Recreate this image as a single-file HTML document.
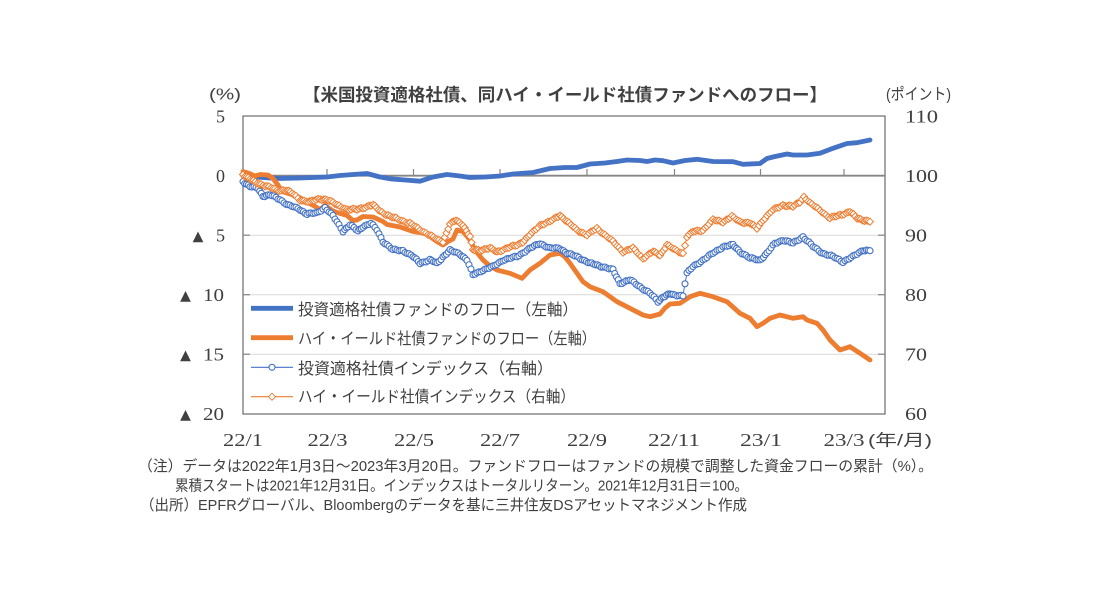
<!DOCTYPE html>
<html lang="ja">
<head>
<meta charset="utf-8">
<style>
  html,body{margin:0;padding:0;background:#fff;}
  body{width:1110px;height:599px;overflow:hidden;}
  svg{display:block;}
  .jp{font-family:"Liberation Sans","Noto Sans CJK JP",sans-serif;fill:#404040;}
  .num{font-family:"Liberation Serif",serif;fill:#404040;font-size:18px;}
  .tri{font-family:"DejaVu Sans",sans-serif;fill:#404040;font-size:14px;}
</style>
</head>
<body>
<svg id="chart" width="1110" height="599" viewBox="0 0 1110 599" xmlns="http://www.w3.org/2000/svg">
  <rect x="0" y="0" width="1110" height="599" fill="#fff"/>

  <!-- title -->
  <text class="jp" x="303" y="101" font-size="17.5" font-weight="700" fill="#3a3a3a" textLength="524" lengthAdjust="spacingAndGlyphs">【米国投資適格社債、同ハイ・イールド社債ファンドへのフロー】</text>
  <text class="jp" x="209" y="99.5" font-size="16" textLength="32" lengthAdjust="spacingAndGlyphs">(%)</text>
  <text class="jp" x="886" y="99.5" font-size="16" textLength="65" lengthAdjust="spacingAndGlyphs">(ポイント)</text>

  <!-- gridlines -->
  <g stroke="#d9d9d9" stroke-width="1">
    <line x1="243" y1="235.2" x2="885" y2="235.2"/>
    <line x1="243" y1="294.7" x2="885" y2="294.7"/>
    <line x1="243" y1="354.2" x2="885" y2="354.2"/>
  </g>
  <!-- plot box -->
  <rect x="243" y="116" width="642" height="298" fill="none" stroke="#6b6b6b" stroke-width="1.2"/>
  <!-- zero line -->
  <line x1="243" y1="175.7" x2="885" y2="175.7" stroke="#868686" stroke-width="1.8"/>
  <!-- x ticks -->
  <g stroke="#868686" stroke-width="1.2">
    <line x1="327" y1="169" x2="327" y2="175.7"/>
    <line x1="413.5" y1="169" x2="413.5" y2="175.7"/>
    <line x1="500" y1="169" x2="500" y2="175.7"/>
    <line x1="587" y1="169" x2="587" y2="175.7"/>
    <line x1="674.5" y1="169" x2="674.5" y2="175.7"/>
    <line x1="760.5" y1="169" x2="760.5" y2="175.7"/>
    <line x1="844" y1="169" x2="844" y2="175.7"/>
  </g>
  <!-- y ticks (inside) -->
  <g stroke="#868686" stroke-width="1.2">
    <line x1="243" y1="235.2" x2="250" y2="235.2"/>
    <line x1="243" y1="294.7" x2="250" y2="294.7"/>
    <line x1="243" y1="354.2" x2="250" y2="354.2"/>
    <line x1="878" y1="235.2" x2="885" y2="235.2"/>
    <line x1="878" y1="294.7" x2="885" y2="294.7"/>
    <line x1="878" y1="354.2" x2="885" y2="354.2"/>
  </g>

  <!-- left axis labels -->
  <text class="num" x="225" y="122.5" text-anchor="end">5</text>
  <text class="num" x="225" y="182.2" text-anchor="end">0</text>
  <text class="num" x="225" y="241.7" text-anchor="end">5</text>
  <text class="num" x="224" y="301.2" text-anchor="end" textLength="21" lengthAdjust="spacingAndGlyphs">10</text>
  <text class="num" x="224" y="360.7" text-anchor="end" textLength="21" lengthAdjust="spacingAndGlyphs">15</text>
  <text class="num" x="224" y="420.2" text-anchor="end" textLength="21" lengthAdjust="spacingAndGlyphs">20</text>
  <text class="tri" x="198" y="240.5" text-anchor="middle">▲</text>
  <text class="tri" x="185.5" y="300" text-anchor="middle">▲</text>
  <text class="tri" x="185.5" y="359.5" text-anchor="middle">▲</text>
  <text class="tri" x="185.5" y="419" text-anchor="middle">▲</text>

  <!-- right axis labels -->
  <text class="num" x="905" y="122.5" textLength="33" lengthAdjust="spacingAndGlyphs">110</text>
  <text class="num" x="905" y="182.2" textLength="33" lengthAdjust="spacingAndGlyphs">100</text>
  <text class="num" x="905" y="241.7" textLength="22" lengthAdjust="spacingAndGlyphs">90</text>
  <text class="num" x="905" y="301.2" textLength="22" lengthAdjust="spacingAndGlyphs">80</text>
  <text class="num" x="905" y="360.7" textLength="22" lengthAdjust="spacingAndGlyphs">70</text>
  <text class="num" x="905" y="420.2" textLength="22" lengthAdjust="spacingAndGlyphs">60</text>

  <!-- x axis labels -->
  <text class="num" x="243" y="446" text-anchor="middle" textLength="40" lengthAdjust="spacingAndGlyphs">22/1</text>
  <text class="num" x="327.5" y="446" text-anchor="middle" textLength="40" lengthAdjust="spacingAndGlyphs">22/3</text>
  <text class="num" x="414" y="446" text-anchor="middle" textLength="40" lengthAdjust="spacingAndGlyphs">22/5</text>
  <text class="num" x="500" y="446" text-anchor="middle" textLength="40" lengthAdjust="spacingAndGlyphs">22/7</text>
  <text class="num" x="587" y="446" text-anchor="middle" textLength="40" lengthAdjust="spacingAndGlyphs">22/9</text>
  <text class="num" x="674" y="446" text-anchor="middle" textLength="52" lengthAdjust="spacingAndGlyphs">22/11</text>
  <text class="num" x="761" y="446" text-anchor="middle" textLength="42" lengthAdjust="spacingAndGlyphs">23/1</text>
  <text class="num" x="844" y="446" text-anchor="middle" textLength="41" lengthAdjust="spacingAndGlyphs">23/3</text>
  <text class="jp" x="868" y="445.5" font-size="16" textLength="64" lengthAdjust="spacingAndGlyphs">(年/月)</text>

  <!-- series: flows (primary) -->
  <polyline id="bf" fill="none" stroke="#4472C4" stroke-width="4.8" stroke-linejoin="round" stroke-linecap="round"
    points="243,176 255,177 270,178 280,178.5 300,178 327,177 340,175.5 353,174.5 367,173.5 380,177 390,178.8 405,180 420,181.2 433,177 447,174.5 460,176 470,177.5 485,177 500,176 513,174 533,172.5 550,168.5 565,167.5 577,167.5 590,164 605,163 617,161.5 627,160 640,160.5 647,161.5 655,160 663,160.7 673,163 685,160.5 697,159.3 713,161.5 733,161.7 743,164.3 760,163.5 767,158.5 775,156.5 787,154 793,155 807,155 820,153.3 833,148.3 847,143.5 857,142.7 870,140"/>
  <polyline id="of" fill="none" stroke="#ED7D31" stroke-width="4.8" stroke-linejoin="round" stroke-linecap="round"
    points="243,171.5 248,173 255,176 260,174.5 268,175 273,178.5 278,185 282,191.5 290,194 298,196.5 308,202.5 316,207 320,209.5 325,205.5 333,211 340,213.5 347,215.5 353,220.5 357,220 363,216.5 373,217 383,221.5 387,224.5 400,227 413,231.5 427,233.5 432,238 437,241.5 443,245 448,241.5 453,239 457,230 463,231.5 470,240 475,250 483,260 490,266 497,270 510,273.3 522,278.3 530,270 540,263.3 550,255 560,253.3 565,257 570,263.3 583,281.7 590,286.7 603,291.7 617,301.7 630,308.3 643,315 650,316.7 660,314 665,308 670,304 680,303.3 690,296.7 700,293.3 713,296.7 727,301.7 740,313.3 750,318.3 757,326.7 763,323.3 770,318.3 780,315 793,318.3 803,316.7 807,320 817,323.3 823,330 830,340 840,350 850,346.7 860,353.3 870,360"/>

  <!-- series: indices (secondary) -->
  <polyline id="bi" fill="none" stroke="#4472C4" stroke-width="1"
    points="243,181.5 250,186.5 258,188.5 263,196 270,195 280,199.5 288,205 300,209.5 307,214 317,213 325,207.5 333,216 343,231 350,225 358,231 363,226.5 371,223.5 377,230 383,241.5 393,250 403,250.5 413,256.7 420,263 430,260 437,263.3 443,256.7 450,250.5 460,254 467,260 473,275 483,270 493,266.7 503,260 517,256.7 527,250 540,243.3 550,248.3 560,248.3 567,253.3 577,256.7 590,263.3 603,266.7 613,270 620,283.3 630,280 640,286.7 650,293.3 658,301.7 663,296.7 670,294 673,295 683,295.5 685,283.3 687,273.3 693,266.7 703,260 713,253.3 723,246.7 733,245 740,251.7 750,258.3 760,260 767,253.3 775,243.3 783,240 793,243.3 803,236.7 813,246.7 823,253.3 833,256.7 843,261.7 853,256.7 863,250 870,250.7"/>
  <g id="bim"></g>
  <polyline id="oi" fill="none" stroke="#ED7D31" stroke-width="1"
    points="243,174.5 250,179 257,183.3 267,186 277,190.5 287,190 292,193.3 300,200 310,201.7 320,199 327,199.5 337,205 347,209.5 357,209.5 367,206.5 373,205 380,211 390,216.5 400,220 410,223.3 420,230 430,235 437,240 443,241.7 450,224 456,220.5 463,225 470,236.7 473,250 480,250 490,248.3 497,251.7 507,248.3 517,245 523,241.7 530,235 540,225 550,221.7 560,215 567,221.7 577,230 587,235 597,228.3 603,233.3 613,241.7 623,251.7 633,248.3 643,258.3 653,251.7 660,255 667,245 675,250 683,253.3 687,236.7 693,231.7 703,230 713,220 723,221.7 732,216.7 740,221.7 750,223.3 757,228.3 763,220 773,210 783,205 793,206.7 800,201.7 804,196.7 810,203.3 820,210 830,218.3 840,215 850,211.7 857,218.3 870,221.7"/>
  <g id="oim"></g>

  <!-- legend -->
  <line x1="251" y1="308.3" x2="293" y2="308.3" stroke="#4472C4" stroke-width="4.8"/>
  <text class="jp" x="298" y="315" font-size="16" textLength="280" lengthAdjust="spacingAndGlyphs">投資適格社債ファンドのフロー（左軸）</text>
  <line x1="251" y1="337.7" x2="293" y2="337.7" stroke="#ED7D31" stroke-width="4.8"/>
  <text class="jp" x="298" y="344" font-size="16" textLength="298" lengthAdjust="spacingAndGlyphs">ハイ・イールド社債ファンドのフロー（左軸）</text>
  <line x1="251" y1="367.3" x2="293" y2="367.3" stroke="#4472C4" stroke-width="1.2"/>
  <circle cx="272" cy="367.3" r="3" fill="#fff" stroke="#4472C4" stroke-width="1.1"/>
  <text class="jp" x="298" y="374" font-size="16" textLength="255" lengthAdjust="spacingAndGlyphs">投資適格社債インデックス（右軸）</text>
  <line x1="251" y1="396.7" x2="293" y2="396.7" stroke="#ED7D31" stroke-width="1.2"/>
  <polygon points="272,393.2 275.5,396.7 272,400.2 268.5,396.7" fill="#fff" stroke="#ED7D31" stroke-width="1"/>
  <text class="jp" x="298" y="402" font-size="16" textLength="277" lengthAdjust="spacingAndGlyphs">ハイ・イールド社債インデックス（右軸）</text>

  <!-- notes -->
  <text class="jp" x="138" y="471" font-size="15" textLength="795" lengthAdjust="spacingAndGlyphs">（注）データは2022年1月3日～2023年3月20日。ファンドフローはファンドの規模で調整した資金フローの累計（%）。</text>
  <text class="jp" x="175" y="490.5" font-size="15" textLength="573" lengthAdjust="spacingAndGlyphs">累積スタートは2021年12月31日。インデックスはトータルリターン。2021年12月31日＝100。</text>
  <text class="jp" x="140" y="510" font-size="15" textLength="607" lengthAdjust="spacingAndGlyphs">（出所）EPFRグローバル、Bloombergのデータを基に三井住友DSアセットマネジメント作成</text>
</svg>
<script>
(function(){
  var NS="http://www.w3.org/2000/svg";
  function pts(id){
    return document.getElementById(id).getAttribute("points").trim().split(/\s+/).map(function(p){var a=p.split(",");return [parseFloat(a[0]),parseFloat(a[1])];});
  }
  function densify(p,step){
    var out=[];
    for(var i=0;i<p.length-1;i++){
      var x0=p[i][0],y0=p[i][1],x1=p[i+1][0],y1=p[i+1][1];
      var n=Math.max(1,Math.round((x1-x0)/step));
      for(var k=0;k<n;k++){var t=k/n;out.push([x0+(x1-x0)*t,y0+(y1-y0)*t]);}
    }
    out.push(p[p.length-1]);
    return out;
  }
  function jitter(d,amp){
    for(var i=1;i<d.length-1;i++){
      d[i][1]+=amp*(Math.sin(i*1.73)*0.6+Math.sin(i*0.61+1)*0.5);
    }
    return d;
  }
  var bi=jitter(densify(pts("bi"),2.0),0.9);
  var g=document.getElementById("bim");
  bi.forEach(function(p){
    var c=document.createElementNS(NS,"circle");
    c.setAttribute("cx",p[0].toFixed(2));c.setAttribute("cy",p[1].toFixed(2));
    c.setAttribute("r","3.0");c.setAttribute("fill","#fff");
    c.setAttribute("stroke","#4472C4");c.setAttribute("stroke-width","1.1");
    g.appendChild(c);
  });
  var oi=jitter(densify(pts("oi"),2.0),0.9);
  var g2=document.getElementById("oim");
  oi.forEach(function(p){
    var x=p[0],y=p[1],s=3.5;
    var d=document.createElementNS(NS,"polygon");
    d.setAttribute("points",x.toFixed(2)+","+(y-s).toFixed(2)+" "+(x+s).toFixed(2)+","+y.toFixed(2)+" "+x.toFixed(2)+","+(y+s).toFixed(2)+" "+(x-s).toFixed(2)+","+y.toFixed(2));
    d.setAttribute("fill","#fff");d.setAttribute("stroke","#ED7D31");d.setAttribute("stroke-width","1");
    g2.appendChild(d);
  });
})();
</script>
</body>
</html>
